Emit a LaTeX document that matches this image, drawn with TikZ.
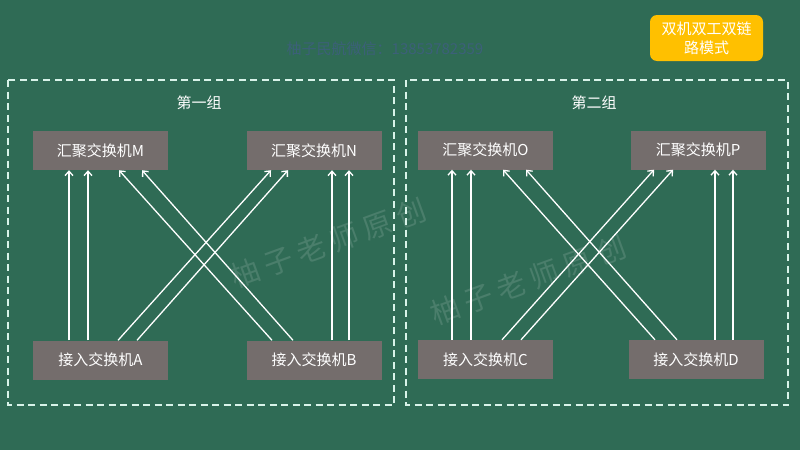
\documentclass[tikz,border=0pt]{standalone}
\usepackage{fontspec}
\setmainfont{Noto Sans CJK SC}
\usetikzlibrary{arrows.meta,calc}
\definecolor{bg}{HTML}{2F6B55}
\definecolor{boxgray}{HTML}{746D6C}
\definecolor{gold}{HTML}{FFC000}
\definecolor{dashc}{HTML}{D8F3E9}
\definecolor{wm}{HTML}{3C6079}
\definecolor{wmg}{HTML}{4A7E6B}
\tikzset{
  sw/.style={fill=boxgray,draw=none,minimum width=135pt,minimum height=39pt,inner sep=0pt,text=white,font=\fontsize{15}{16}\selectfont},
  arr/.style={draw=white,line width=1.3pt,-{Straight Barb[length=4.5pt,width=8pt]}},
  grp/.style={draw=dashc,line width=1.1pt,dash pattern=on 7pt off 4.5pt},
  ttl/.style={text=white,font=\fontsize{15}{16}\selectfont},
  wmark/.style={text=wmg,font=\fontsize{29}{30}\selectfont\addfontfeature{LetterSpace=22},rotate=20}
}
\begin{document}
\begin{tikzpicture}[x=1pt,y=-1pt]
\fill[bg] (0,0) rectangle (800,450);
\useasboundingbox (0,0) rectangle (800,450);
% watermarks
\node[text=wm,font=\fontsize{15}{16}\selectfont] (wm1) at (385,49) {柚子民航微信：13853782359};
\node[wmark] (wm2) at (328,243) {柚子老师原创};
\node[wmark] (wm3) at (528,280) {柚子老师原创};
% groups
\draw[grp] (8,80) rectangle (394,405);
\draw[grp] (406,80) rectangle (788,405);
\node[ttl] (t1) at (199,103) {第一组};
\node[ttl] (t2) at (594,103) {第二组};
% title box
\node[fill=gold,rounded corners=7pt,minimum width=113pt,minimum height=46pt,text=white,align=center,font=\fontsize{15}{19}\selectfont] (mode) at (706.5,38) {双机双工双链\\路模式};
% switches
\node[sw] (M) at (100.5,150.5) {汇聚交换机M};
\node[sw] (N) at (314,150.5) {汇聚交换机N};
\node[sw] (A) at (100.5,360) {接入交换机A};
\node[sw] (B) at (314,360) {接入交换机B};
\node[sw] (O) at (485.5,150) {汇聚交换机O};
\node[sw] (P) at (698,150) {汇聚交换机P};
\node[sw] (C) at (485.5,359.5) {接入交换机C};
\node[sw] (D) at (696,359.5) {接入交换机D};
% group 1 links
\draw[arr] ([xshift=-31.5]A.north) -- ([xshift=-31.5]M.south);
\draw[arr] ([xshift=-12.5]A.north) -- ([xshift=-12.5]M.south);
\draw[arr] ([xshift=17.5]A.north) -- ([xshift=-43]N.south);
\draw[arr] ([xshift=36.5]A.north) -- ([xshift=-26]N.south);
\draw[arr] ([xshift=-42]B.north) -- ([xshift=18.5]M.south);
\draw[arr] ([xshift=-21]B.north) -- ([xshift=41.5]M.south);
\draw[arr] ([xshift=18]B.north) -- ([xshift=18]N.south);
\draw[arr] ([xshift=35]B.north) -- ([xshift=35]N.south);
% group 2 links
\draw[arr] ([xshift=-33.5]C.north) -- ([xshift=-33.5]O.south);
\draw[arr] ([xshift=-14.5]C.north) -- ([xshift=-14.5]O.south);
\draw[arr] ([xshift=16.5]C.north) -- ([xshift=-44]P.south);
\draw[arr] ([xshift=35.5]C.north) -- ([xshift=-25]P.south);
\draw[arr] ([xshift=-41]D.north) -- ([xshift=17.5]O.south);
\draw[arr] ([xshift=-19]D.north) -- ([xshift=40.5]O.south);
\draw[arr] ([xshift=19]D.north) -- ([xshift=17]P.south);
\draw[arr] ([xshift=37]D.north) -- ([xshift=35]P.south);
\end{tikzpicture}
\end{document}
